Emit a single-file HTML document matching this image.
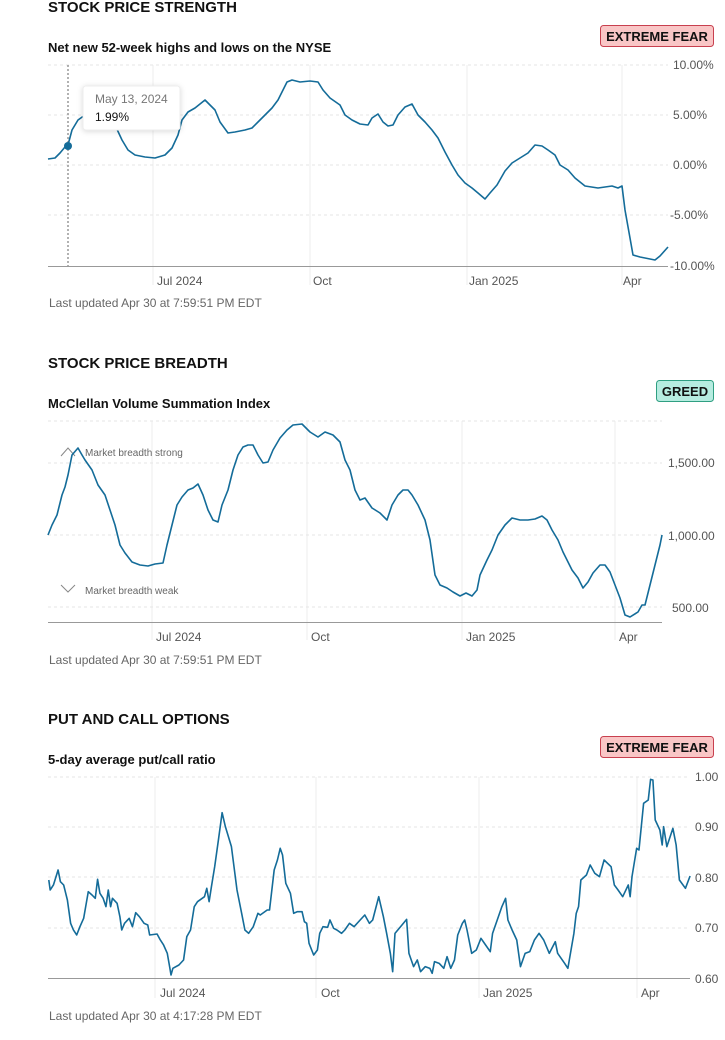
<!DOCTYPE html>
<html><head><meta charset="utf-8"><style>
html,body{margin:0;padding:0;background:#fff;}
svg{display:block;font-family:"Liberation Sans",sans-serif;}
.t{font-size:15px;font-weight:bold;fill:#111;}
.s{font-size:13px;font-weight:bold;fill:#111;}
.ax{font-size:12px;fill:#555;}
.ft{font-size:12px;fill:#666;}
.g{stroke:#e6e6e6;stroke-dasharray:3,3;stroke-width:1;}
.v{stroke:#eeeeee;stroke-width:1;}
.l{fill:none;stroke:#146c99;stroke-width:1.6;stroke-linejoin:round;}
</style></head><body>
<svg width="725" height="1040" viewBox="0 0 725 1040">
<!-- Chart 1 -->
<text class="t" x="48" y="12">STOCK PRICE STRENGTH</text>
<text class="s" x="48" y="52">Net new 52-week highs and lows on the NYSE</text>
<rect x="600.5" y="25.5" width="113" height="21" rx="3" fill="#f9c6c6" stroke="#c8404f"/>
<text x="657" y="41" text-anchor="middle" style="font-size:13px;font-weight:bold;fill:#111">EXTREME FEAR</text>
<line class="v" x1="153" y1="65" x2="153" y2="285"/><line class="v" x1="310" y1="65" x2="310" y2="285"/>
<line class="v" x1="467" y1="65" x2="467" y2="285"/><line class="v" x1="622" y1="65" x2="622" y2="285"/>
<line class="g" x1="48" y1="65" x2="668" y2="65"/><line class="g" x1="48" y1="115" x2="668" y2="115"/>
<line class="g" x1="48" y1="165" x2="668" y2="165"/><line class="g" x1="48" y1="215" x2="668" y2="215"/>
<line x1="48" y1="266.5" x2="668" y2="266.5" stroke="#999" stroke-width="1"/>
<text class="ax" x="673" y="69">10.00%</text><text class="ax" x="673" y="119">5.00%</text>
<text class="ax" x="673" y="169">0.00%</text><text class="ax" x="670" y="219">-5.00%</text>
<text class="ax" x="670" y="270">-10.00%</text>
<text class="ax" x="157" y="285">Jul 2024</text><text class="ax" x="313" y="285">Oct</text>
<text class="ax" x="469" y="285">Jan 2025</text><text class="ax" x="623" y="285">Apr</text>
<polyline class="l" points="48,159 55,158 60,153 65,147 68,145 72,130 78,120 85,115 95,110 105,113 115,125 122,140 128,150 135,155 145,157 155,158 165,155 172,148 178,135 182,120 188,112 195,108 200,104 205,100 210,105 215,110 220,122 228,133 235,132 245,130 252,128 258,122 265,115 272,108 278,100 283,90 287,82 292,80 300,82 310,81 318,82 323,90 330,98 340,105 345,115 352,120 360,124 368,125 372,118 378,114 383,122 388,126 393,125 398,115 405,107 412,104 418,115 425,122 432,130 438,138 445,152 452,165 458,175 465,183 472,188 478,193 485,199 490,193 497,185 505,171 512,163 520,158 528,153 535,145 542,146 548,150 555,155 560,165 568,170 575,178 585,186 598,188 605,187 612,186 618,188 622,186 625,210 630,238 633,255 640,257 650,259 655,260 660,256 668,247"/>
<line x1="68" y1="65" x2="68" y2="266" stroke="#666" stroke-dasharray="2,2"/>
<circle cx="68" cy="146" r="4" fill="#146c99"/>
<rect x="83" y="86" width="97" height="44" rx="3" fill="#fff" stroke="#eee" style="filter:drop-shadow(0 1px 3px rgba(0,0,0,0.15))"/>
<text x="95" y="103" style="font-size:12px;fill:#777">May 13, 2024</text>
<text x="95" y="121" style="font-size:12px;fill:#111">1.99%</text>
<text class="ft" x="49" y="307">Last updated Apr 30 at 7:59:51 PM EDT</text>

<!-- Chart 2 -->
<text class="t" x="48" y="368">STOCK PRICE BREADTH</text>
<text class="s" x="48" y="408">McClellan Volume Summation Index</text>
<rect x="656.5" y="380.5" width="57" height="21" rx="3" fill="#b6ece0" stroke="#2f9f82"/>
<text x="685" y="396" text-anchor="middle" style="font-size:13px;font-weight:bold;fill:#111">GREED</text>
<line class="v" x1="152" y1="421" x2="152" y2="640"/><line class="v" x1="307" y1="421" x2="307" y2="640"/>
<line class="v" x1="462" y1="421" x2="462" y2="640"/><line class="v" x1="615" y1="421" x2="615" y2="640"/>
<line class="g" x1="48" y1="421" x2="662" y2="421"/><line class="g" x1="48" y1="463" x2="662" y2="463"/>
<line class="g" x1="48" y1="535" x2="662" y2="535"/><line class="g" x1="48" y1="607" x2="662" y2="607"/>
<line x1="48" y1="622.5" x2="662" y2="622.5" stroke="#999"/>
<text class="ax" x="668" y="467">1,500.00</text><text class="ax" x="668" y="540">1,000.00</text>
<text class="ax" x="672" y="612">500.00</text>
<text class="ax" x="156" y="641">Jul 2024</text><text class="ax" x="311" y="641">Oct</text>
<text class="ax" x="466" y="641">Jan 2025</text><text class="ax" x="619" y="641">Apr</text>
<polyline points="61,456 68,448 75,456" fill="none" stroke="#888"/>
<text x="85" y="456" style="font-size:10px;fill:#666">Market breadth strong</text>
<polyline points="61,585 68,592 75,585" fill="none" stroke="#888"/>
<text x="85" y="594" style="font-size:10px;fill:#666">Market breadth weak</text>
<polyline class="l" points="48,535 52,525 57,515 62,495 65,487 68,475 72,455 78,448 82,455 85,460 92,470 98,485 105,495 110,510 115,525 120,545 125,553 132,562 140,565 148,566 155,564 163,563 167,545 172,525 177,505 182,497 188,490 193,488 198,484 203,495 208,510 213,520 218,522 222,505 228,490 233,470 238,455 243,447 248,445 253,445 258,455 263,463 268,462 273,450 280,438 287,430 293,425 302,424 310,432 318,437 325,432 333,435 340,442 345,460 350,470 355,490 360,500 365,498 372,508 380,513 387,520 392,505 398,495 403,490 408,490 412,495 418,505 425,520 430,540 435,575 440,585 447,588 453,592 460,596 466,593 472,596 477,590 480,575 487,560 492,550 498,535 505,525 512,518 520,520 528,520 535,519 542,516 547,520 552,530 558,540 563,552 568,562 572,570 578,578 583,588 588,582 593,573 600,565 605,565 610,572 615,585 620,598 625,615 630,617 638,612 642,605 645,605 650,585 655,565 660,545 662,535"/>
<text class="ft" x="49" y="664">Last updated Apr 30 at 7:59:51 PM EDT</text>

<!-- Chart 3 -->
<text class="t" x="48" y="724">PUT AND CALL OPTIONS</text>
<text class="s" x="48" y="764">5-day average put/call ratio</text>
<rect x="600.5" y="736.5" width="113" height="21" rx="3" fill="#f9c6c6" stroke="#c8404f"/>
<text x="657" y="752" text-anchor="middle" style="font-size:13px;font-weight:bold;fill:#111">EXTREME FEAR</text>
<line class="v" x1="155" y1="777" x2="155" y2="998"/><line class="v" x1="316" y1="777" x2="316" y2="998"/>
<line class="v" x1="479" y1="777" x2="479" y2="998"/><line class="v" x1="637" y1="777" x2="637" y2="998"/>
<line class="g" x1="48" y1="777" x2="690" y2="777"/><line class="g" x1="48" y1="827" x2="690" y2="827"/>
<line class="g" x1="48" y1="877" x2="690" y2="877"/><line class="g" x1="48" y1="928" x2="690" y2="928"/>
<line x1="48" y1="978.5" x2="690" y2="978.5" stroke="#999"/>
<text class="ax" x="695" y="781">1.00</text><text class="ax" x="695" y="831">0.90</text>
<text class="ax" x="695" y="882">0.80</text><text class="ax" x="695" y="932">0.70</text>
<text class="ax" x="695" y="983">0.60</text>
<text class="ax" x="160" y="997">Jul 2024</text><text class="ax" x="321" y="997">Oct</text>
<text class="ax" x="483" y="997">Jan 2025</text><text class="ax" x="641" y="997">Apr</text>
<g transform="translate(0,720) scale(0.4647,0.33333)">
<polyline class="l" vector-effect="non-scaling-stroke" points="105,480 108,510 115,495 125,450 130,485 137,495 145,540 152,610 158,630 165,645 172,620 180,595 190,515 198,525 205,535 210,478 215,520 222,535 228,560 233,510 238,560 242,535 252,550 258,590 262,630 268,610 278,595 285,620 292,578 300,590 310,610 318,615 322,645 338,642 345,660 352,675 360,700 365,740 368,765 372,745 385,735 395,720 402,650 410,630 418,560 425,545 440,530 445,505 450,545 455,500 462,440 470,360 478,278 485,320 498,380 510,510 520,580 527,630 535,640 545,620 555,580 560,585 575,570 580,570 585,510 590,450 597,420 603,385 608,405 615,490 625,520 632,580 640,575 650,575 655,605 660,610 665,670 675,705 683,690 688,640 695,620 705,622 710,600 718,625 725,630 735,640 742,630 752,610 762,620 775,600 785,585 795,610 802,600 815,530 825,590 832,640 840,700 845,755 850,640 865,615 875,598 880,700 890,740 898,720 905,755 915,740 925,745 930,760 935,725 945,730 955,745 962,710 970,745 978,720 985,645 995,610 1000,600 1005,630 1015,700 1025,690 1035,655 1045,675 1055,695 1060,640 1070,600 1080,560 1088,535 1093,600 1102,630 1112,660 1120,740 1130,700 1140,695 1150,660 1160,640 1170,660 1182,700 1195,665 1200,700 1215,730 1222,745 1235,640 1240,580 1245,560 1250,480 1262,465 1270,435 1280,460 1290,470 1300,420 1315,440 1322,495 1330,510 1340,530 1352,495 1356,530 1360,470 1370,385 1375,390 1385,250 1395,240 1400,178 1405,180 1410,300 1420,330 1425,375 1428,320 1435,380 1448,325 1455,375 1462,480 1475,505 1485,468"/>
</g>
<text class="ft" x="49" y="1020">Last updated Apr 30 at 4:17:28 PM EDT</text>
</svg>
</body></html>
